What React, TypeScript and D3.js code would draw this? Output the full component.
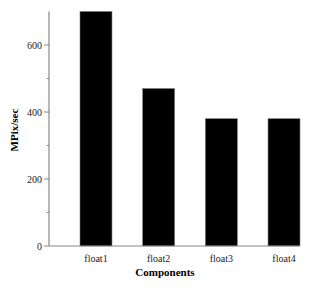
import React from "react";
import * as d3 from "d3";

const categories = ["float1", "float2", "float3", "float4"];
const values = [700, 470, 380, 380];
const majorTicks = [0, 200, 400, 600];
const minorTicks = [100, 300, 500];

export default function App() {
  const W = 320, H = 288;
  const axisX = 49, axisRight = 300;
  const y = d3.scaleLinear().domain([0, 700]).range([246, 11.5]);
  const x = d3.scaleBand<string>().domain(categories).range([80, 300]).paddingInner(0.49).paddingOuter(0);
  const font = "'Liberation Serif', 'Times New Roman', serif";
  const axisColor = "#888";
  return (
    <svg width={W} height={H} style={{ position: "absolute", left: 0, top: 0, background: "#fff" }}>
      <rect x={0} y={0} width={W} height={H} fill="#fff" />
      {categories.map((c, i) => (
        <rect key={c} x={x(c)} y={y(values[i])} width={x.bandwidth()} height={y(0) - y(values[i])}
          fill="#000" stroke="#777" strokeWidth={0.6} />
      ))}
      <line x1={axisX} x2={axisX} y1={y(700)} y2={y(0)} stroke={axisColor} strokeWidth={1.2} />
      <line x1={axisX} x2={axisRight} y1={y(0)} y2={y(0)} stroke={axisColor} strokeWidth={1.2} />
      {majorTicks.map(t => (
        <g key={t}>
          <line x1={axisX - 5} x2={axisX} y1={y(t)} y2={y(t)} stroke={axisColor} strokeWidth={1} />
          <text x={axisX - 7} y={y(t)} dy="0.35em" textAnchor="end" fontFamily={font} fontSize={10} fill="#222">{t}</text>
        </g>
      ))}
      {minorTicks.map(t => (
        <line key={t} x1={axisX - 2.5} x2={axisX} y1={y(t)} y2={y(t)} stroke={axisColor} strokeWidth={1} />
      ))}
      {categories.map(c => (
        <text key={c} x={(x(c) as number) + x.bandwidth() / 2} y={262} textAnchor="middle" fontFamily={font} fontSize={10} fill="#222">{c}</text>
      ))}
      <text x={165} y={276} textAnchor="middle" fontFamily={font} fontSize={11} fontWeight="bold" fill="#000">Components</text>
      <text transform={`translate(18,130) rotate(-90)`} textAnchor="middle" fontFamily={font} fontSize={11} fontWeight="bold" fill="#000">MPix/sec</text>
    </svg>
  );
}
